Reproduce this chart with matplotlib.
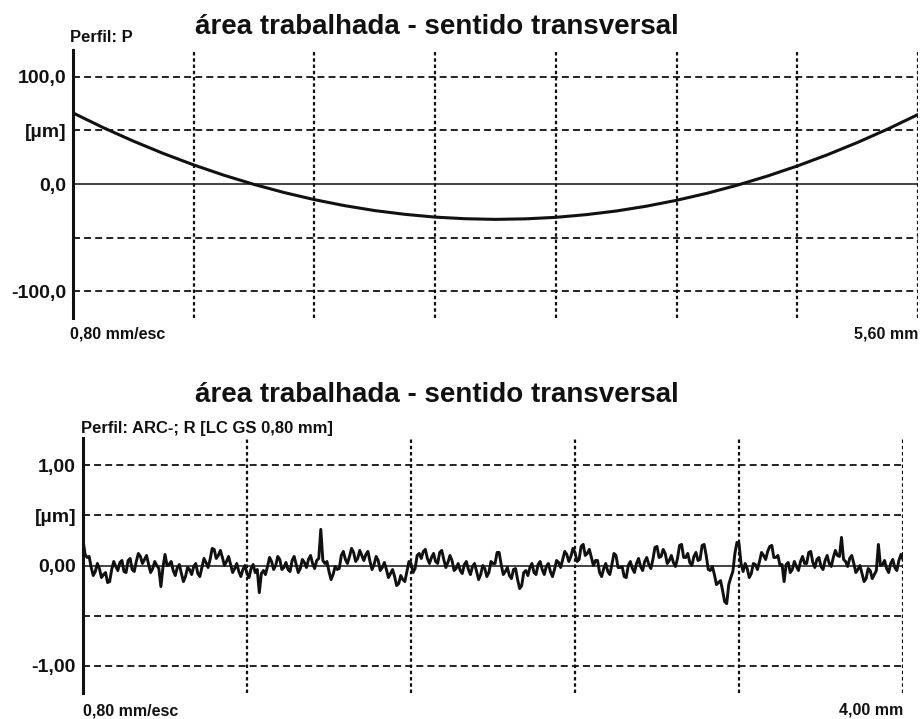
import numpy as np
import matplotlib
matplotlib.use("Agg")
import matplotlib.pyplot as plt

plt.rcParams['font.family'] = ['Liberation Sans', 'DejaVu Sans']
plt.rcParams['lines.scale_dashes'] = False

TITLE = "área trabalhada - sentido transversal"
INK = "#111111"

# ---- Primary profile (P), sampled every 0.2 mm over 5.60 mm ----
p_step = 0.2
p_values = [66.3, 52.6, 40.0, 28.4, 17.8, 8.2, -0.4, -8.0, -14.6, -20.2,
            -24.8, -28.3, -30.9, -32.4, -33.0, -32.5, -31.1, -28.6, -25.2,
            -20.7, -15.2, -8.7, -1.2, 7.3, 16.8, 27.3, 38.8, 51.3, 64.8]
p_xgrid = [0.8, 1.6, 2.4, 3.2, 4.0, 4.8, 5.6]
p_hgrid = [100, 50, -50, -100]
p_yticks = [100, 50, 0, -100]
p_ylabels = ["100,0", "[µm]", "0,0", "-100,0"]
p_ylim = (-125, 125)
p_xmax = 5.6

# ---- Roughness profile (R), sampled every 0.01 mm over 4.00 mm ----
r_step = 0.01
r_values = [
    0.26, 0.11, 0.08, 0.09, -0.02, -0.10, -0.06, 0.02, -0.03, -0.12,
    -0.09, -0.07, -0.17, -0.16, -0.04, 0.04, -0.01, -0.05, 0.03, 0.05,
    -0.06, -0.07, 0.05, 0.07, -0.04, -0.06, 0.04, 0.12, 0.09, 0.02,
    0.06, 0.10, 0.01, -0.07, -0.03, 0.04, 0.00, -0.03, -0.21, -0.02,
    0.11, 0.00, 0.01, 0.04, -0.05, -0.10, -0.02, 0.01, -0.08, -0.16,
    -0.11, -0.02, -0.04, -0.09, -0.01, 0.02, -0.08, -0.11, -0.02, 0.07,
    0.03, -0.02, 0.06, 0.17, 0.16, 0.07, 0.10, 0.15, 0.08, 0.00,
    0.04, 0.09, 0.01, -0.07, -0.03, 0.02, -0.06, -0.11, -0.04, 0.00,
    -0.08, -0.12, -0.03, 0.01, -0.07, -0.04, -0.27, -0.08, -0.05, -0.09,
    -0.01, 0.08, 0.04, -0.04, 0.00, 0.09, 0.06, -0.04, -0.02, 0.03,
    -0.04, -0.06, 0.05, 0.09, 0.01, -0.07, -0.03, 0.06, 0.03, -0.02,
    0.06, 0.10, 0.02, -0.03, 0.05, 0.07, 0.36, 0.05, 0.02, 0.04,
    -0.06, -0.14, -0.09, -0.01, -0.04, -0.03, 0.10, 0.14, 0.06, 0.02,
    0.09, 0.17, 0.13, 0.04, 0.07, 0.15, 0.10, 0.05, 0.11, 0.14,
    0.04, -0.04, 0.01, 0.09, 0.05, -0.05, -0.02, 0.03, -0.04, -0.12,
    -0.08, -0.04, -0.11, -0.20, -0.18, -0.10, -0.14, -0.16, -0.06, 0.04,
    0.02, -0.07, -0.03, 0.10, 0.12, 0.07, 0.14, 0.16, 0.07, 0.02,
    0.08, 0.12, 0.04, 0.02, 0.13, 0.15, 0.06, -0.02, 0.03, 0.10,
    0.05, -0.05, -0.03, 0.02, -0.05, -0.08, 0.01, 0.04, -0.04, -0.09,
    -0.01, 0.02, -0.06, -0.14, -0.09, 0.00, -0.03, -0.11, -0.07, 0.04,
    0.02, 0.02, 0.13, 0.13, 0.01, -0.09, -0.06, -0.02, -0.10, -0.13,
    -0.04, -0.03, -0.14, -0.23, -0.20, -0.07, -0.05, -0.10, -0.02, 0.02,
    -0.07, -0.09, 0.01, 0.04, -0.04, -0.09, -0.01, 0.02, -0.06, -0.11,
    -0.04, 0.05, 0.03, -0.02, 0.06, 0.14, 0.11, 0.04, 0.09, 0.17,
    0.13, 0.04, 0.06, 0.19, 0.21, 0.10, 0.12, 0.16, 0.08, 0.00,
    0.05, 0.05, -0.07, -0.11, -0.03, 0.02, -0.06, -0.09, 0.01, 0.12,
    0.10, -0.02, -0.02, -0.01, -0.11, -0.12, 0.00, 0.04, -0.03, -0.07,
    0.02, 0.07, -0.01, -0.05, 0.04, 0.08, 0.01, -0.03, 0.06, 0.18,
    0.19, 0.08, 0.09, 0.16, 0.12, 0.02, 0.05, 0.10, 0.03, -0.01,
    0.07, 0.20, 0.21, 0.08, 0.08, 0.12, 0.03, 0.00, 0.09, 0.13,
    0.05, 0.06, 0.20, 0.21, 0.10, -0.04, -0.05, -0.01, -0.09, -0.19,
    -0.17, -0.15, -0.25, -0.36, -0.38, -0.19, -0.12, -0.06, 0.12, 0.23,
    0.22, 0.02, -0.06, 0.02, -0.03, -0.12, -0.08, 0.02, 0.01, -0.04,
    0.04, 0.13, 0.10, 0.06, 0.14, 0.19, 0.20, 0.08, 0.08, 0.10,
    0.00, 0.01, -0.16, 0.01, 0.03, -0.07, -0.04, 0.04, -0.01, -0.05,
    0.04, 0.09, 0.02, 0.02, 0.13, 0.14, 0.03, -0.02, 0.06, 0.08,
    -0.01, -0.04, 0.05, 0.10, 0.02, -0.01, 0.08, 0.15, 0.10, 0.09,
    0.28, 0.06, 0.04, -0.01, 0.07, 0.10, 0.02, -0.07, -0.04, 0.00,
    -0.08, -0.16, -0.13, -0.03, -0.05, -0.13, -0.09, -0.05, 0.21, 0.00,
    0.01, 0.05, -0.03, -0.07, 0.02, 0.06, -0.02, -0.05, 0.05, 0.11,
    0.06,
]
r_xgrid = [0.8, 1.6, 2.4, 3.2, 4.0]
r_hgrid = [1.0, 0.5, -0.5, -1.0]
r_yticks = [1.0, 0.5, 0.0, -1.0]
r_ylabels = ["1,00", "[µm]", "0,00", "-1,00"]
r_ylim = (-1.27, 1.27)
r_xmax = 4.0

W, H = 924, 719
fig = plt.figure(figsize=(W / 100, H / 100), dpi=100)
fig.patch.set_facecolor("white")


def box(l, t, r, b):
    return [l / W, 1 - b / H, (r - l) / W, (b - t) / H]


def fx(px):
    return px / W


def fy(py):
    return 1 - py / H


def style_axes(ax, xmax, ylim, xgrid, hgrid, yticks, ylabels):
    ax.set_xlim(0, xmax)
    ax.set_ylim(*ylim)
    for s in ("top", "right", "bottom"):
        ax.spines[s].set_visible(False)
    ax.spines["left"].set_linewidth(2.2)
    ax.spines["left"].set_color(INK)
    ax.set_xticks([])
    ax.set_yticks(yticks)
    ax.set_yticklabels(ylabels, fontsize=14, fontweight="bold", color=INK)
    ax.tick_params(axis="y", length=0, pad=5)
    for xv in xgrid:
        ax.axvline(xv, color=INK, lw=1.6, ls=(0, (2.5, 2.0)), zorder=1)
    for yv in hgrid:
        ax.axhline(yv, color=INK, lw=1.3, ls=(0, (5, 3)), zorder=1)
    ax.axhline(0, color=INK, lw=1.1, zorder=1)


# Top panel: primary profile
ax1 = fig.add_axes(box(73, 50, 918, 318))
style_axes(ax1, p_xmax, p_ylim, p_xgrid, p_hgrid, p_yticks, p_ylabels)
p_x = np.arange(len(p_values)) * p_step
ax1.plot(p_x, p_values, color=INK, lw=2.2, zorder=3)

# Bottom panel: roughness profile
ax2 = fig.add_axes(box(83, 438, 903, 693))
style_axes(ax2, r_xmax, r_ylim, r_xgrid, r_hgrid, r_yticks, r_ylabels)
r_x = np.arange(len(r_values)) * r_step
ax2.plot(r_x, r_values, color=INK, lw=2.1, zorder=3)

# Titles and annotations
fig.text(fx(437), fy(27), TITLE, ha="center", va="center",
         fontsize=20, fontweight="bold", color=INK)
fig.text(fx(437), fy(395), TITLE, ha="center", va="center",
         fontsize=20, fontweight="bold", color=INK)

fig.text(fx(70), fy(37), "Perfil: P", ha="left", va="center",
         fontsize=12, fontweight="bold", color=INK)
fig.text(fx(81), fy(428), "Perfil: ARC-; R [LC GS 0,80 mm]", ha="left",
         va="center", fontsize=12, fontweight="bold", color=INK)

fig.text(fx(70), fy(334), "0,80 mm/esc", ha="left", va="center",
         fontsize=11.5, fontweight="bold", color=INK)
fig.text(fx(918), fy(334), "5,60 mm", ha="right", va="center",
         fontsize=11.5, fontweight="bold", color=INK)
fig.text(fx(83), fy(711), "0,80 mm/esc", ha="left", va="center",
         fontsize=11.5, fontweight="bold", color=INK)
fig.text(fx(903), fy(710), "4,00 mm", ha="right", va="center",
         fontsize=11.5, fontweight="bold", color=INK)

fig.savefig("out.png", dpi=100, facecolor="white")
